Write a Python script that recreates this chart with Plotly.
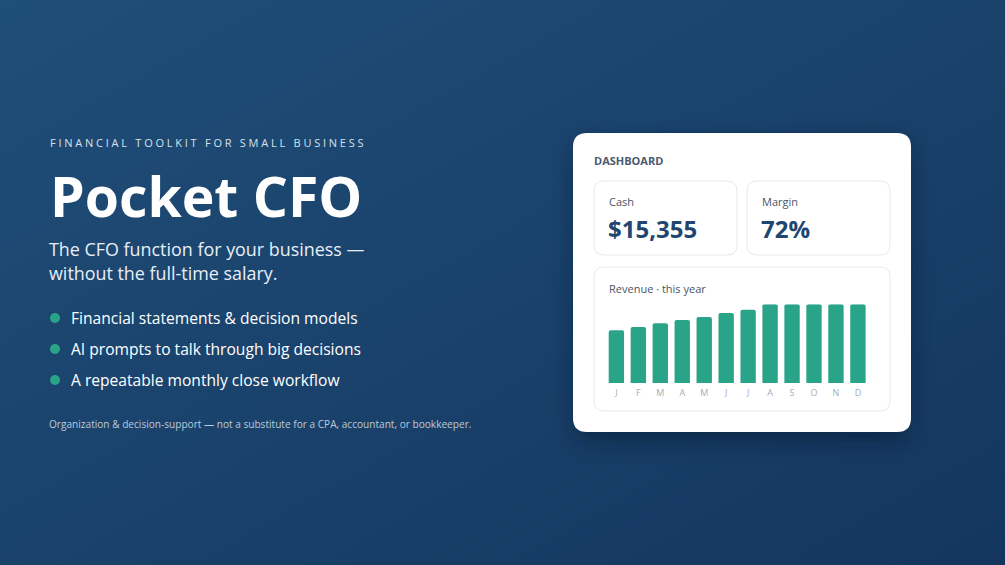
import base64
import plotly.graph_objects as go

W, H = 1005, 565

# revenue bars, % of the tallest month
months = ["J", "F", "M", "A", "M", "J", "J", "A", "S", "O", "N", "D"]
revenue = [67, 71, 76, 80, 84, 89, 93, 100, 100, 100, 100, 100]

bullets = [
    "Financial statements &amp; decision models",
    "AI prompts to talk through big decisions",
    "A repeatable monthly close workflow",
]
kpi_labels = ["Cash", "Margin"]
kpi_values = ["$15,355", "72%"]

FONT = "Open Sans"
GREEN = "#2aa488"
NAVY = "#1e4670"


def px(x, y):
    '''pixel (top-left origin) -> paper coords'''
    return x / W, 1 - y / H


def rrect(x0, y0, x1, y1, r):
    '''rounded rectangle as an svg path in paper coords'''
    pts = [
        ("M", [(x0 + r, y0)]), ("L", [(x1 - r, y0)]), ("Q", [(x1, y0), (x1, y0 + r)]),
        ("L", [(x1, y1 - r)]), ("Q", [(x1, y1), (x1 - r, y1)]),
        ("L", [(x0 + r, y1)]), ("Q", [(x0, y1), (x0, y1 - r)]),
        ("L", [(x0, y0 + r)]), ("Q", [(x0, y0), (x0 + r, y0)]),
    ]
    out = ""
    for cmd, coords in pts:
        out += cmd + " " + " ".join("%.5f,%.5f" % px(a, b) for a, b in coords) + " "
    return out + "Z"


# background gradient + card shadow
svg = """<svg xmlns='http://www.w3.org/2000/svg' width='1005' height='565' viewBox='0 0 1005 565'>
<defs>
<linearGradient id='g' x1='0' y1='0' x2='1' y2='1'>
<stop offset='0' stop-color='#1f4e79'/><stop offset='1' stop-color='#14365e'/>
</linearGradient>
<filter id='s' x='-30%' y='-30%' width='160%' height='160%'><feGaussianBlur stdDeviation='11'/></filter>
</defs>
<rect width='1005' height='565' fill='url(#g)'/>
<rect x='575' y='142' width='334' height='298' rx='14' fill='#061325' opacity='0.5' filter='url(#s)'/>
</svg>"""
bg = "data:image/svg+xml;base64," + base64.b64encode(svg.encode()).decode()

fig = go.Figure()

fig.add_trace(go.Bar(
    x=list(range(len(months))), y=revenue,
    marker=dict(color=GREEN, line=dict(width=0), cornerradius=2),
    hoverinfo="skip",
))


def card(x0, y0, x1, y1, r, border=None):
    return dict(type="path", path=rrect(x0, y0, x1, y1, r), xref="paper", yref="paper",
                fillcolor="white", layer="below",
                line=dict(color=border, width=1) if border else dict(width=0))


shapes = [
    card(573, 133, 911, 432, 14),
    card(594, 181, 737, 255, 10, "#e4e8ef"),
    card(747, 181, 890, 255, 10, "#e4e8ef"),
    card(594, 267, 890, 411, 10, "#e4e8ef"),
]

ann = []


def text(x, y, s, size, color, bold=False, family=FONT):
    xp, yp = px(x, y)
    ann.append(dict(x=xp, y=yp, xref="paper", yref="paper", text=s, showarrow=False,
                    xanchor="left", yanchor="middle", align="left",
                    font=dict(size=size, color=color, family=family,
                              weight="bold" if bold else "normal")))


# left column
text(48, 142, '<span style="letter-spacing:2.75px">FINANCIAL TOOLKIT FOR SMALL BUSINESS</span>',
     11, "#d8e1ea")
text(48, 195, "Pocket CFO", 55.3, "white", bold=True)
text(47, 249, "The CFO function for your business —", 17.9, "#e8eef5")
text(47, 273, "without the full-time salary.", 17.9, "#e8eef5")
for i, b in enumerate(bullets):
    yb = 318 + i * 31
    cx, cy = 55, yb
    shapes.append(dict(type="circle", x0=(cx - 5) / W, x1=(cx + 5) / W,
                       y0=1 - (cy + 5) / H, y1=1 - (cy - 5) / H,
                       xref="paper", yref="paper", fillcolor=GREEN,
                       line=dict(width=0)))
    text(69, yb, b, 15.6, "white")
text(47, 424, "Organization &amp; decision-support — not a substitute for a CPA, accountant, or bookkeeper.",
     10.1, "#bccadb")

# card texts
text(592, 161, "DASHBOARD", 11, "#4b5a6e", bold=True)
for i in range(2):
    x0 = 607 + i * 153
    text(x0, 201, kpi_labels[i], 11, "#4a5568")
    text(x0 - 1, 228, kpi_values[i], 24, NAVY, bold=True)
text(607, 288, "Revenue · this year", 11, "#4a5568")

xd0, _ = px(605.4, 0)
xd1, _ = px(868.9, 0)
_, yd0 = px(0, 383)
_, yd1 = px(0, 304.3)

fig.update_layout(
    width=W, height=H, margin=dict(l=0, r=0, t=0, b=0),
    paper_bgcolor="#1b4570", plot_bgcolor="rgba(0,0,0,0)",
    showlegend=False, bargap=0.3,
    shapes=shapes, annotations=ann,
    images=[dict(source=bg, xref="paper", yref="paper", x=0, y=1, sizex=1, sizey=1,
                 xanchor="left", yanchor="top", sizing="stretch", layer="below")],
    xaxis=dict(domain=[xd0, xd1], range=[-0.5, 11.5], tickmode="array",
               tickvals=list(range(len(months))), ticktext=months,
               showgrid=False, zeroline=False, showline=False, ticks="",
               ticklabelstandoff=3,
               tickfont=dict(size=9, color="#a3adb9", family=FONT), fixedrange=True),
    yaxis=dict(domain=[yd0, yd1], range=[0, 100], visible=False, fixedrange=True),
    font=dict(family=FONT),
)

fig.write_html("out.html", config={"displayModeBar": False},
               post_script="document.body.style.margin='0';document.body.style.overflow='hidden';")
